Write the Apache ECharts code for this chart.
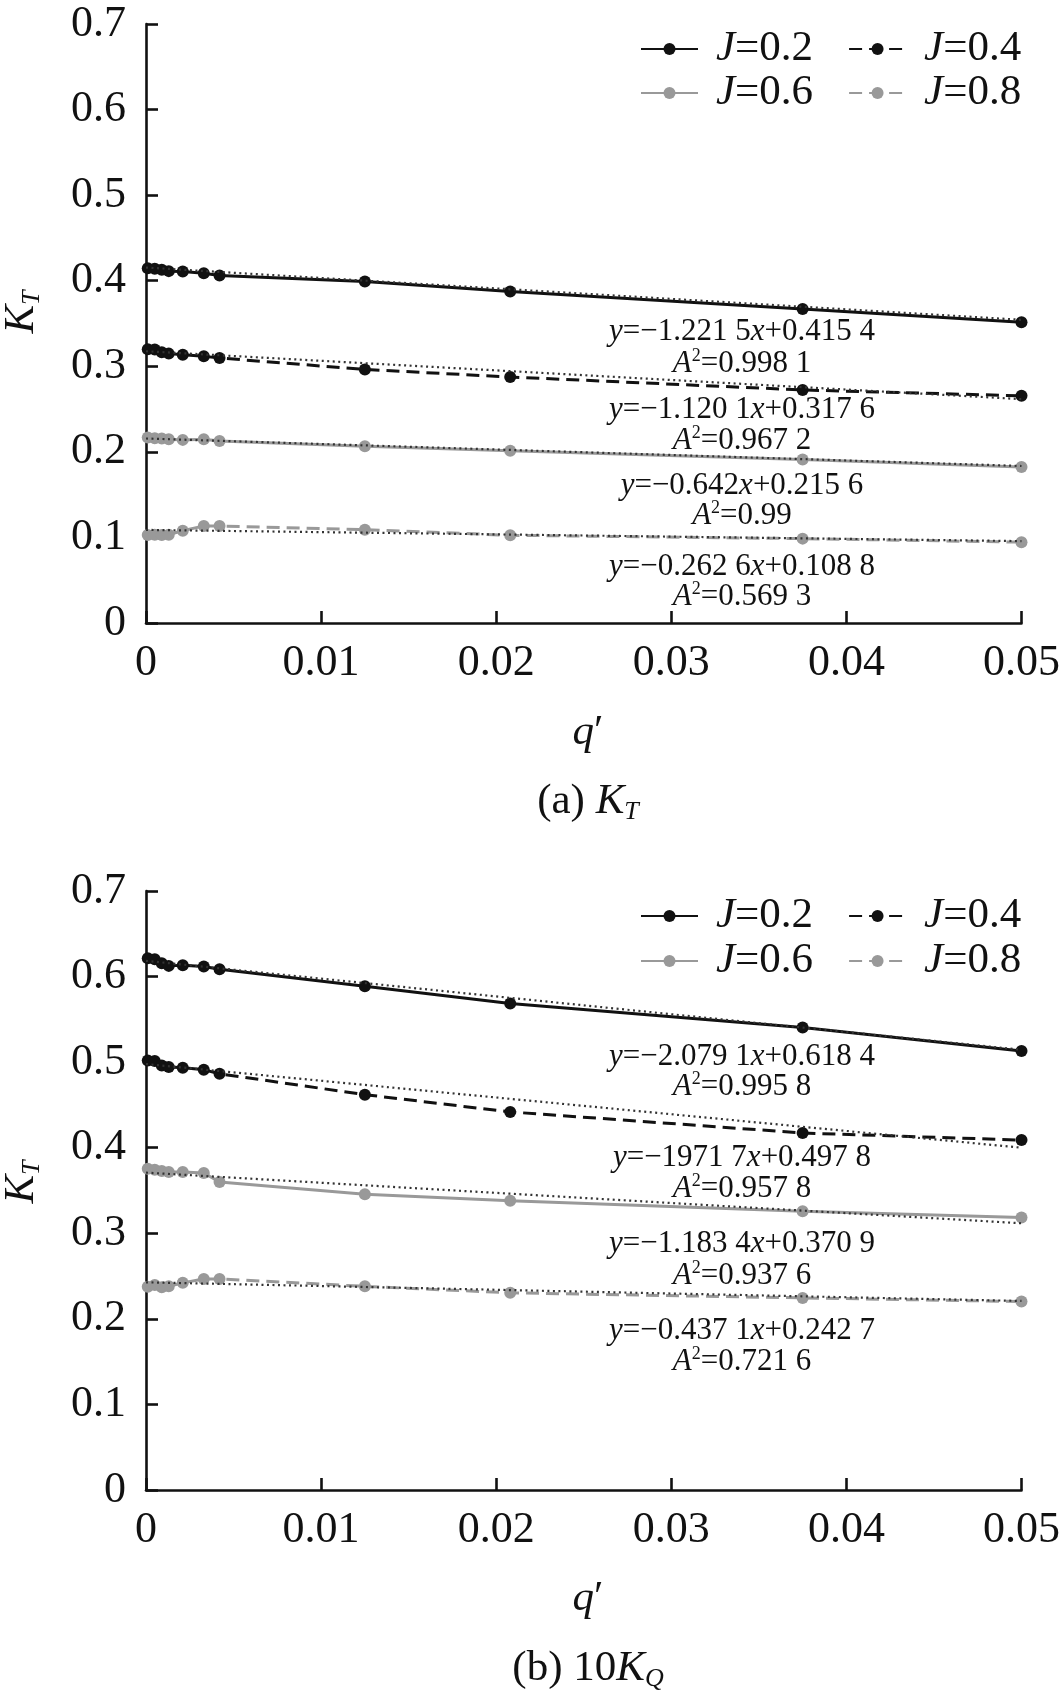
<!DOCTYPE html>
<html>
<head>
<meta charset="utf-8">
<script src="https://cdn.jsdelivr.net/npm/echarts@6/dist/echarts.min.js"></script>
<style>
html,body{margin:0;padding:0;background:#fff;}
#chart{width:1063px;height:1698px;}
</style>
</head>
<body>
<div id="chart"></div>
<script>
// ---- data ----
const qValues = [0.0001, 0.0005, 0.0009, 0.0013, 0.0021, 0.0033, 0.0042, 0.0125, 0.0208, 0.0375, 0.05];
const seriesNames = ['J=0.2', 'J=0.4', 'J=0.6', 'J=0.8'];

// (a) K_T
const kt02 = [0.4145, 0.4140, 0.4128, 0.4112, 0.4108, 0.4086, 0.4060, 0.3990, 0.3874, 0.3670, 0.3515];
const kt04 = [0.3200, 0.3195, 0.3165, 0.3148, 0.3136, 0.3117, 0.3097, 0.2963, 0.2875, 0.2723, 0.2655];
const kt06 = [0.2167, 0.2160, 0.2156, 0.2148, 0.2140, 0.2146, 0.2128, 0.2065, 0.2013, 0.1910, 0.1822];
const kt08 = [0.1028, 0.1030, 0.1028, 0.1032, 0.1079, 0.1134, 0.1134, 0.1090, 0.1025, 0.0986, 0.0945];
// trend line end values (at q'=0 and q'=0.05)
const ktFit = [[0.4154, 0.3543], [0.3176, 0.2616], [0.2156, 0.1835], [0.1088, 0.0957]];

// (b) 10K_Q
const kq02 = [0.6214, 0.6202, 0.6156, 0.6125, 0.6132, 0.6117, 0.6086, 0.5886, 0.5684, 0.5405, 0.5130];
const kq04 = [0.5019, 0.5012, 0.4961, 0.4942, 0.4934, 0.4911, 0.4864, 0.4620, 0.4418, 0.4172, 0.4089];
const kq06 = [0.3755, 0.3743, 0.3728, 0.3716, 0.3716, 0.3704, 0.3599, 0.3456, 0.3380, 0.3258, 0.3185];
const kq08 = [0.2375, 0.2395, 0.2370, 0.2380, 0.2421, 0.2467, 0.2467, 0.2380, 0.2304, 0.2245, 0.2202];
const kqFit = [[0.6184, 0.5144], [0.4978, 0.4000], [0.3709, 0.3117], [0.2427, 0.2209]];

const fitX = [0, 0.05];

// annotation texts
const ktEq = [
  ['{i|y}=−1.221 5{i|x}+0.415 4', '{i|A}{sup|2}=0.998 1'],
  ['{i|y}=−1.120 1{i|x}+0.317 6', '{i|A}{sup|2}=0.967 2'],
  ['{i|y}=−0.642{i|x}+0.215 6', '{i|A}{sup|2}=0.99'],
  ['{i|y}=−0.262 6{i|x}+0.108 8', '{i|A}{sup|2}=0.569 3']
];
const kqEq = [
  ['{i|y}=−2.079 1{i|x}+0.618 4', '{i|A}{sup|2}=0.995 8'],
  ['{i|y}=−1971 7{i|x}+0.497 8', '{i|A}{sup|2}=0.957 8'],
  ['{i|y}=−1.183 4{i|x}+0.370 9', '{i|A}{sup|2}=0.937 6'],
  ['{i|y}=−0.437 1{i|x}+0.242 7', '{i|A}{sup|2}=0.721 6']
];
const ktEqY = [332, 364, 410, 441, 486, 516, 567, 597];
const kqEqY = [1057, 1087, 1158, 1189, 1244, 1276, 1331, 1362];

// ---- styling ----
const FONT = 'Liberation Serif';
const BLACK = '#111';
const GRAY = '#999';
const styles = [
  {color: BLACK, type: 'solid'},
  {color: BLACK, type: [13, 7]},
  {color: GRAY, type: 'solid'},
  {color: GRAY, type: [13, 7]}
];

const chart = echarts.init(document.getElementById('chart'), null, {renderer: 'canvas'});

function pairs(ys) { return qValues.map((x, i) => [x, ys[i]]); }

const series = [];
[[kt02, kt04, kt06, kt08], [kq02, kq04, kq06, kq08]].forEach((group, g) => {
  group.forEach((ys, k) => {
    series.push({
      name: seriesNames[k], type: 'line', xAxisIndex: g, yAxisIndex: g,
      data: pairs(ys), symbol: 'circle', symbolSize: 12, showSymbol: true,
      smooth: false,
      lineStyle: {color: styles[k].color, width: 3, type: styles[k].type},
      itemStyle: {color: styles[k].color},
      z: 2, animation: false
    });
  });
  const fits = g === 0 ? ktFit : kqFit;
  fits.forEach((f, k) => {
    series.push({
      name: 'fit' + g + k, type: 'line', xAxisIndex: g, yAxisIndex: g,
      data: fitX.map((x, i) => [x, f[i]]), symbol: 'none',
      lineStyle: {color: '#333', width: 2.2, type: [2, 3.5]},
      z: 3, animation: false, silent: true
    });
  });
});

const axisCommon = {
  axisLine: {onZero: false, lineStyle: {color: BLACK, width: 2.6}},
  axisTick: {inside: true, length: 12, lineStyle: {color: BLACK, width: 2.6}},
  splitLine: {show: false}
};

function xAxis(gi) {
  return Object.assign({}, axisCommon, {
    type: 'value', gridIndex: gi, min: 0, max: 0.05, interval: 0.01,
    axisLabel: {margin: 18, fontFamily: FONT, fontSize: 44, color: BLACK,
      formatter: v => v === 0 ? '0' : v.toFixed(2)}
  });
}
function yAxis(gi) {
  return Object.assign({}, axisCommon, {
    type: 'value', gridIndex: gi, min: 0, max: 0.7, interval: 0.1,
    axisLabel: {margin: 20, fontFamily: FONT, fontSize: 44, color: BLACK,
      formatter: v => v === 0 ? '0' : v.toFixed(1)}
  });
}

const legendText = {
  fontFamily: FONT, fontSize: 43, color: BLACK, lineHeight: 44,
  rich: {
    s: {width: 13, fontFamily: FONT, fontSize: 43, lineHeight: 44},
    i: {fontStyle: 'italic', fontFamily: FONT, fontSize: 43, color: BLACK, lineHeight: 44},
    n: {fontFamily: FONT, fontSize: 43, color: BLACK, lineHeight: 44}
  }
};
function legend(names, top) {
  return {
    data: names, left: 640, top: top, orient: 'horizontal',
    itemWidth: 57, itemHeight: 15, itemGap: 35, padding: 0,
    selectedMode: false,
    formatter: n => '{s|}{i|J}{n|' + n.slice(1) + '}',
    textStyle: legendText
  };
}

const richBase = {
  i: {fontStyle: 'italic', fontFamily: FONT, fontSize: 31, fill: BLACK, lineHeight: 34},
  n: {fontFamily: FONT, fontSize: 31, fill: BLACK, lineHeight: 34},
  sup: {fontFamily: FONT, fontSize: 18, fill: BLACK, verticalAlign: 'top', lineHeight: 18}
};
function eqText(txt, y) {
  return {
    type: 'text', x: 742, y: y, z: 10, silent: true,
    style: {text: txt, fontFamily: FONT, fontSize: 31, fill: BLACK,
      align: 'center', verticalAlign: 'middle', rich: richBase}
  };
}
const graphics = [];
ktEq.forEach((pair, k) => { graphics.push(eqText(pair[0], ktEqY[2*k])); graphics.push(eqText(pair[1], ktEqY[2*k+1])); });
kqEq.forEach((pair, k) => { graphics.push(eqText(pair[0], kqEqY[2*k])); graphics.push(eqText(pair[1], kqEqY[2*k+1])); });

const bigRich = {
  i: {fontStyle: 'italic', fontFamily: FONT, fontSize: 43, fill: BLACK, lineHeight: 46},
  n: {fontFamily: FONT, fontSize: 43, fill: BLACK, lineHeight: 46},
  sub: {fontStyle: 'italic', fontFamily: FONT, fontSize: 26, fill: BLACK, verticalAlign: 'bottom', lineHeight: 26}
};
function bigText(txt, x, y, rot) {
  return {
    type: 'text', x: x, y: y, rotation: rot || 0, z: 10, silent: true,
    style: {text: txt, fontFamily: FONT, fontSize: 43, fill: BLACK,
      align: 'center', verticalAlign: 'middle', rich: bigRich}
  };
}
graphics.push(bigText('{i|K}{sub|T}', 22, 312, Math.PI / 2));
graphics.push(bigText('{i|K}{sub|T}', 22, 1182, Math.PI / 2));
graphics.push(bigText('{i|q}{n|′}', 588, 733));
graphics.push(bigText('{i|q}{n|′}', 588, 1599));
graphics.push(bigText('{n|(a) }{i|K}{sub|T}', 588, 802));
graphics.push(bigText('{n|(b) 10}{i|K}{sub|Q}', 588, 1669));

chart.setOption({
  animation: false,
  backgroundColor: '#fff',
  grid: [
    {left: 146, width: 880, top: 24, height: 599},
    {left: 146, width: 880, top: 891, height: 599}
  ],
  xAxis: [xAxis(0), xAxis(1)],
  yAxis: [yAxis(0), yAxis(1)],
  legend: [
    legend(['J=0.2', 'J=0.4'], 27),
    legend(['J=0.6', 'J=0.8'], 71),
    legend(['J=0.2', 'J=0.4'], 894),
    legend(['J=0.6', 'J=0.8'], 939)
  ],
  series: series,
  graphic: graphics
});
</script>
</body>
</html>
